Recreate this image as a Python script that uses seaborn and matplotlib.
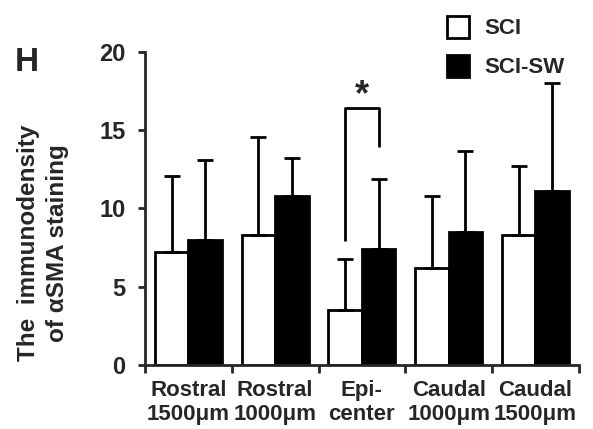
import numpy as np
import pandas as pd
import seaborn as sns
import matplotlib.pyplot as plt
from matplotlib.ticker import FixedLocator

# ----------------------------------------------------------------------
# Data
# ----------------------------------------------------------------------
regions = ["Rostral\n1500μm", "Rostral\n1000μm", "Epi-\ncenter",
           "Caudal\n1000μm", "Caudal\n1500μm"]
groups = ["SCI", "SCI-SW"]
sci_mean = [7.2, 8.3, 3.5, 6.2, 8.3]
sci_err = [4.9, 6.3, 3.3, 4.6, 4.4]
sw_mean = [8.0, 10.8, 7.4, 8.5, 11.1]
sw_err = [5.1, 2.45, 4.5, 5.2, 6.9]

# significance bracket on the epicenter pair
sig_region = 2
bracket_top = 16.4
bracket_left_end = 7.9
bracket_right_end = 13.9
star_y = 17.2

df = pd.DataFrame({
    "Region": regions * 2,
    "Group": [groups[0]] * len(regions) + [groups[1]] * len(regions),
    "Value": sci_mean + sw_mean,
})

# ----------------------------------------------------------------------
# Plot
# ----------------------------------------------------------------------
sns.set_style("ticks")
plt.rcParams["font.family"] = ["Liberation Sans", "DejaVu Sans"]
plt.rcParams["font.weight"] = "bold"

fig = plt.figure(figsize=(5.93, 4.29), dpi=100)
ax = fig.add_axes([0.2445, 0.1492, 0.7315, 0.7296])

sns.barplot(data=df, x="Region", y="Value", hue="Group",
            palette=["white", "black"], edgecolor="black", linewidth=2,
            width=0.77, errorbar=None, ax=ax, legend=True)

# upper-only error bars, centered on each bar
bar_x = {}
for cont, means, errs, g in zip(ax.containers, [sci_mean, sw_mean],
                                [sci_err, sw_err], groups):
    xs = [p.get_x() + p.get_width() / 2 for p in cont.patches]
    bar_x[g] = xs
    ax.errorbar(xs, means, yerr=[np.zeros(len(errs)), errs], fmt="none",
                ecolor="black", elinewidth=2, capsize=6, capthick=2, zorder=1)

# significance bracket
xl = bar_x["SCI"][sig_region]
xr = bar_x["SCI-SW"][sig_region]
ax.plot([xl, xl, xr, xr],
        [bracket_left_end, bracket_top, bracket_top, bracket_right_end],
        color="black", lw=2, solid_capstyle="butt")
ax.text((xl + xr) / 2, star_y, "*", ha="center", va="center",
        fontsize=26, fontweight="bold")

# axes styling
ax.set_ylim(0, 20)
ax.set_xlim(-0.5, len(regions) - 0.5)
ax.set_yticks([0, 5, 10, 15, 20])
ax.tick_params(axis="y", labelsize=17, width=2, length=5, pad=9)
ax.xaxis.set_major_locator(FixedLocator(np.arange(-0.5, len(regions), 1.0)))
ax.set_xticklabels([])
ax.xaxis.set_minor_locator(FixedLocator(np.arange(len(regions))))
ax.set_xticklabels(regions, minor=True, fontsize=16, fontweight="bold",
                   linespacing=1.15)
ax.tick_params(axis="x", which="major", width=2, length=6)
ax.tick_params(axis="x", which="minor", length=0, pad=11)
for lbl in ax.get_yticklabels():
    lbl.set_fontweight("bold")
ax.set_xlabel("")
ax.set_ylabel("The  immunodensity\nof αSMA staining", fontsize=17.5,
              fontweight="bold", linespacing=1.35)
ax.yaxis.set_label_coords(-0.175, 0.39)
for s in ["left", "bottom"]:
    ax.spines[s].set_linewidth(2)
sns.despine(ax=ax)

# legend at the top right
handles, labels = ax.get_legend_handles_labels()
ax.legend(handles, labels, loc="upper left", bbox_to_anchor=(0.72, 1.01),
          bbox_transform=fig.transFigure, frameon=False,
          prop={"weight": "bold", "size": 16}, handlelength=1.0,
          handleheight=1.15, handletextpad=0.7, labelspacing=0.7)

fig.text(0.025, 0.835, "H", fontsize=24, fontweight="bold")

fig.savefig("out.png", dpi=100)
